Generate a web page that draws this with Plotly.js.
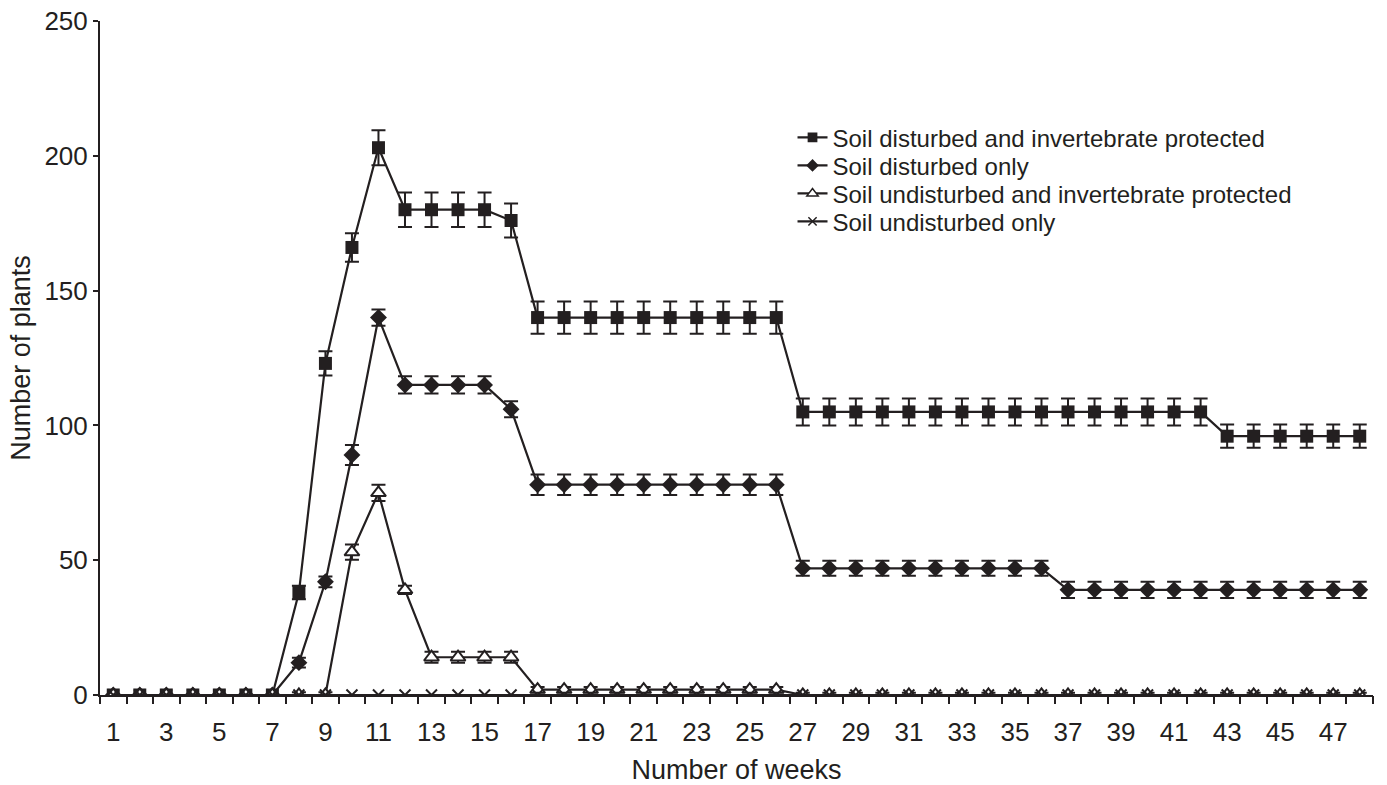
<!DOCTYPE html>
<html>
<head>
<meta charset="utf-8">
<script src="https://cdn.plot.ly/plotly-3.0.1.min.js"></script>
<style>html,body{margin:0;padding:0;background:#fff;}#chart{width:1387px;height:785px;}</style>
</head>
<body>
<div id="chart"></div>
<script>
var weeks = [1,2,3,4,5,6,7,8,9,10,11,12,13,14,15,16,17,18,19,20,21,22,23,24,25,26,27,28,29,30,31,32,33,34,35,36,37,38,39,40,41,42,43,44,45,46,47,48];
var tickWeeks = [1,3,5,7,9,11,13,15,17,19,21,23,25,27,29,31,33,35,37,39,41,43,45,47];
var tickLabels = ["1","3","5","7","9","11","13","15","17","19","21","23","25","27","29","31","33","35","37","39","41","43","45","47"];
var seriesNames = ["Soil disturbed and invertebrate protected","Soil disturbed only","Soil undisturbed and invertebrate protected","Soil undisturbed only"];

var distProt = [0,0,0,0,0,0,0,38,123,166,203,180,180,180,180,176,140,140,140,140,140,140,140,140,140,140,105,105,105,105,105,105,105,105,105,105,105,105,105,105,105,105,96,96,96,96,96,96];
var distProtErr = [0,0,0,0,0,0,0,2.5,4.5,5.3,6.5,6.4,6.4,6.4,6.4,6.3,6,6,6,6,6,6,6,6,6,6,5,5,5,5,5,5,5,5,5,5,5,5,5,5,5,5,4.3,4.3,4.3,4.3,4.3,4.3];

var distOnly = [0,0,0,0,0,0,0,12,42,89,140,115,115,115,115,106,78,78,78,78,78,78,78,78,78,78,47,47,47,47,47,47,47,47,47,47,39,39,39,39,39,39,39,39,39,39,39,39];
var distOnlyErr = [0,0,0,0,0,0,0,1.8,2,3.7,3,3.2,3.2,3.2,3.2,3,3.8,3.8,3.8,3.8,3.8,3.8,3.8,3.8,3.8,3.8,2.8,2.8,2.8,2.8,2.8,2.8,2.8,2.8,2.8,2.8,3,3,3,3,3,3,3,3,3,3,3,3];

var undistProt = [0,0,0,0,0,0,0,0,0,53,75,39,14,14,14,14,2,2,2,2,2,2,2,2,2,2,0,0,0,0,0,0,0,0,0,0,0,0,0,0,0,0,0,0,0,0,0,0];
var undistProtErr = [0,0,0,0,0,0,0,1,1,2.8,3,1.5,2,2,2,2,1,1,1,1,1,1,1,1,1,1,0.8,0.8,0.8,0.8,0.8,0.8,0.8,0.8,0.8,0.8,0.8,0.8,0.8,0.8,0.8,0.8,0.8,0.8,0.8,0.8,0.8,0.8];

var undistOnly = [0,0,0,0,0,0,0,0,0,0,0,0,0,0,0,0,0,0,0,0,0,0,0,0,0,0,0,0,0,0,0,0,0,0,0,0,0,0,0,0,0,0,0,0,0,0,0,0];

var boundaries = [0.5,1.5,2.5,3.5,4.5,5.5,6.5,7.5,8.5,9.5,10.5,11.5,12.5,13.5,14.5,15.5,16.5,17.5,18.5,19.5,20.5,21.5,22.5,23.5,24.5,25.5,26.5,27.5,28.5,29.5,30.5,31.5,32.5,33.5,34.5,35.5,36.5,37.5,38.5,39.5,40.5,41.5,42.5,43.5,44.5,45.5,46.5,47.5,48.5];

var ink = '#231f20';
function err(arr){ return {type:'data', array:arr, visible:true, color:ink, thickness:2, width:7}; }

var traces = [
  {x:weeks, y:distProt, name:seriesNames[0], type:'scatter', mode:'lines+markers',
   line:{color:ink, width:2.2}, marker:{symbol:'square', size:13, color:ink}, error_y:err(distProtErr)},
  {x:weeks, y:distOnly, name:seriesNames[1], type:'scatter', mode:'lines+markers',
   line:{color:ink, width:2.2}, marker:{symbol:'diamond', size:13, color:ink}, error_y:err(distOnlyErr)},
  {x:weeks, y:undistProt, name:seriesNames[2], type:'scatter', mode:'lines+markers',
   line:{color:ink, width:2.2}, marker:{symbol:'triangle-up', size:13, color:'#ffffff', line:{color:ink, width:2}}, error_y:err(undistProtErr)},
  {x:weeks, y:undistOnly, name:seriesNames[3], type:'scatter', mode:'lines+markers',
   line:{color:ink, width:2.2}, marker:{symbol:'x-thin-open', size:11, color:ink, line:{color:ink, width:2}}},
  {x:boundaries, y:boundaries.map(function(){return null;}), xaxis:'x2', yaxis:'y', type:'scatter', mode:'markers', showlegend:false, hoverinfo:'skip'}
];

var fam = '"Liberation Sans", Arial, Helvetica, sans-serif';

var layout = {
  width:1387, height:785,
  margin:{l:100, r:14, t:21, b:90},
  paper_bgcolor:'#ffffff', plot_bgcolor:'#ffffff',
  font:{family:fam, size:26, color:ink},
  showlegend:true,
  legend:{x:0.544, y:0.86, xanchor:'left', yanchor:'top', bgcolor:'rgba(0,0,0,0)', font:{family:fam, size:24, color:ink}, tracegroupgap:0, itemwidth:30},
  xaxis:{range:[0.5,48.5], tickmode:'array', tickvals:tickWeeks, ticktext:tickLabels, ticks:'', showgrid:false, zeroline:false,
         showline:true, linecolor:ink, linewidth:2, tickfont:{family:fam, size:26, color:ink}, ticklabelstandoff:13,
         title:{text:'Number of weeks', font:{family:fam, size:27, color:ink}, standoff:16}},
  xaxis2:{overlaying:'x', range:[0.5,48.5], tickmode:'array', tickvals:boundaries, ticks:'outside', ticklen:8, tickwidth:2, tickcolor:ink,
          showticklabels:false, showgrid:false, zeroline:false, showline:false, side:'bottom', anchor:'y'},
  yaxis:{range:[0,250], dtick:50, tick0:0, ticks:'outside', ticklen:5, tickwidth:2, tickcolor:ink, showgrid:false, zeroline:false,
         showline:true, linecolor:ink, linewidth:2, tickfont:{family:fam, size:26, color:ink},
         title:{text:'Number of plants', font:{family:fam, size:27, color:ink}, standoff:6}}
};

Plotly.newPlot('chart', traces, layout, {displayModeBar:false, staticPlot:true}).then(function(gd){
  // tighten legend row spacing to match the reference
  var items = gd.querySelectorAll('.legend .traces');
  var rowGap = 28, y0 = null;
  items.forEach(function(g, i){
    var t = g.getAttribute('transform') || '';
    var m = /translate\(\s*([-\d.]+)[ ,]+([-\d.]+)\s*\)/.exec(t);
    if(!m) return;
    var x = parseFloat(m[1]), y = parseFloat(m[2]);
    if(y0 === null) y0 = y;
    g.setAttribute('transform', 'translate(' + x + ',' + (y0 + i*rowGap) + ')');
  });
  // smaller legend markers, as in the reference
  gd.querySelectorAll('.legend .legendpoints path.scatterpts').forEach(function(p){
    var t = p.getAttribute('transform') || '';
    p.setAttribute('transform', t + ' scale(0.75)');
  });
});
</script>
</body>
</html>
